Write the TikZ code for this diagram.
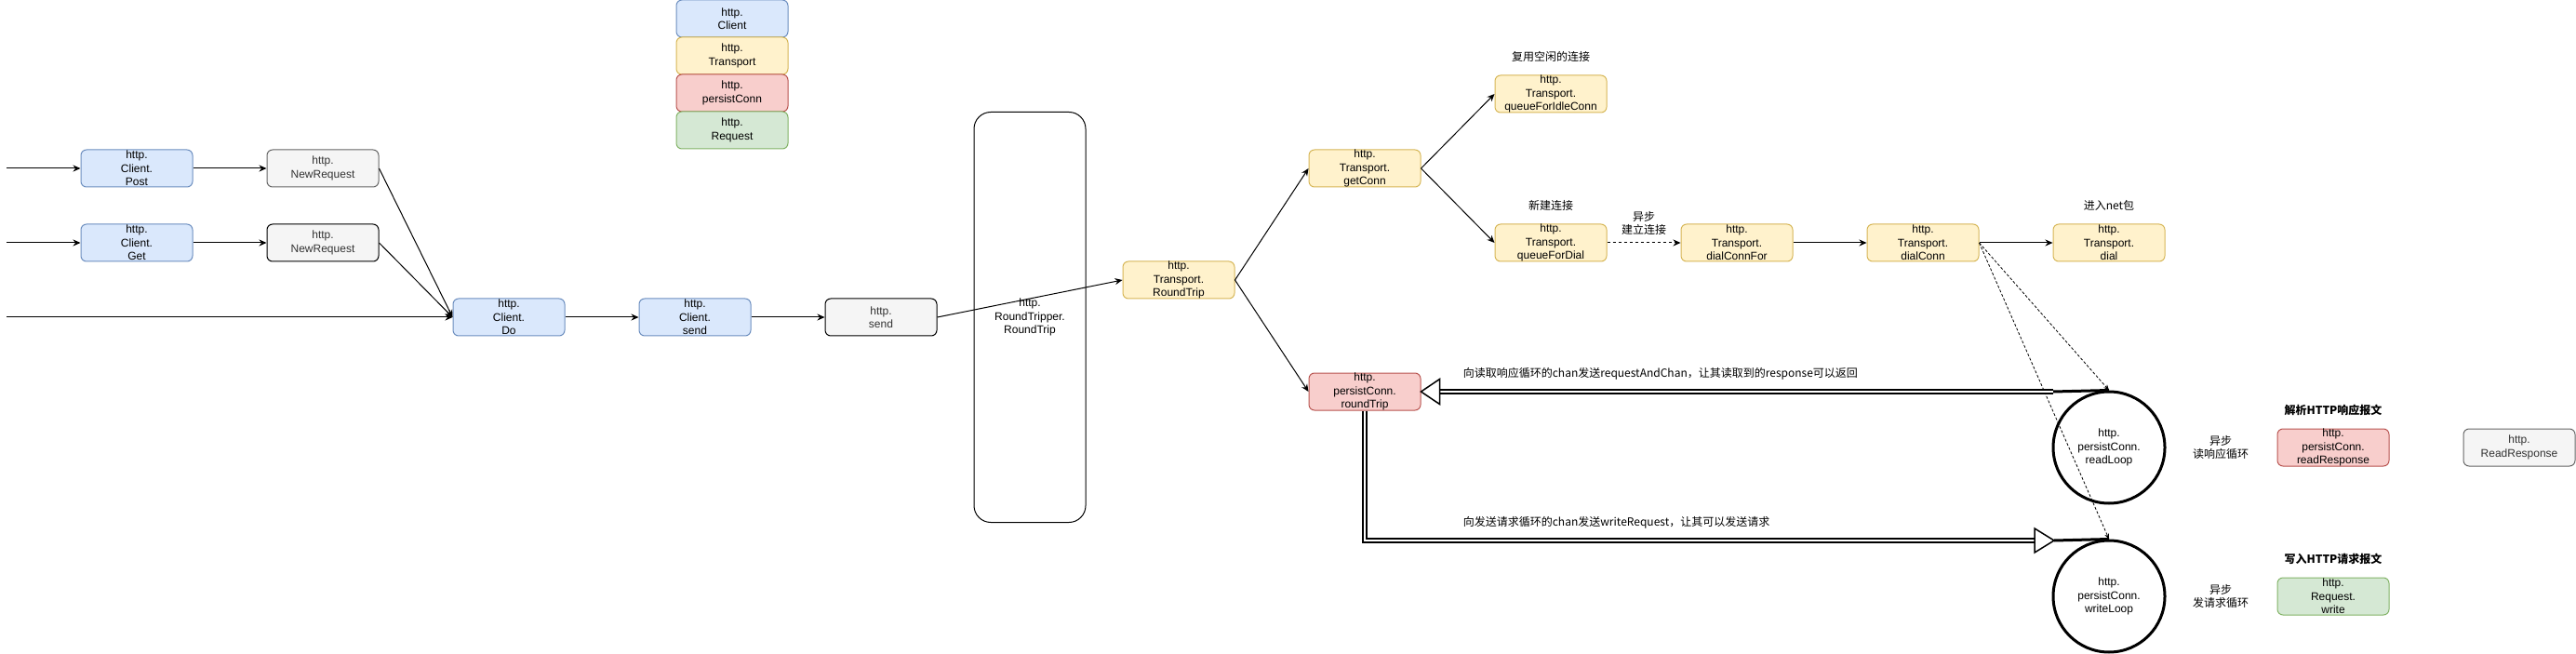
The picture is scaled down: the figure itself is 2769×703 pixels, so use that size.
\documentclass[tikz,border=0pt]{standalone}
\usepackage{fontspec}
\setmainfont{Liberation Sans}
\newfontfamily\cjk{Noto Sans CJK SC}
\usepackage{tikz}
\usetikzlibrary{arrows.meta, positioning}

\definecolor{clientFill}{HTML}{DAE8FC}
\definecolor{clientLine}{HTML}{6C8EBF}
\definecolor{transFill}{HTML}{FFF2CC}
\definecolor{transLine}{HTML}{D6B656}
\definecolor{connFill}{HTML}{F8CECC}
\definecolor{connLine}{HTML}{B85450}
\definecolor{reqFill}{HTML}{D5E8D4}
\definecolor{reqLine}{HTML}{82B366}
\definecolor{plainFill}{HTML}{F5F5F5}
\definecolor{plainLine}{HTML}{666666}
\definecolor{plainText}{HTML}{333333}

\begin{document}
\begin{tikzpicture}[x=1pt, y=-1pt, line width=1pt, node distance=200pt, >={Stealth[length=8pt, width=7pt]},
    box/.style={draw, rounded corners=6pt, minimum width=120pt, minimum height=40pt, inner sep=0pt, align=center, font=\fontsize{12}{14.4}\selectfont},
    clientbox/.style={box, fill=clientFill, draw=clientLine},
    transbox/.style={box, fill=transFill, draw=transLine},
    connbox/.style={box, fill=connFill, draw=connLine},
    reqbox/.style={box, fill=reqFill, draw=reqLine},
    plainbox/.style={box, fill=plainFill, draw=plainLine, text=plainText},
    loopnode/.style={draw, circle, line width=3pt, minimum size=120pt, inner sep=0pt, align=center, font=\fontsize{12}{14.4}\selectfont},
    note/.style={align=center, font=\cjk\fontsize{12}{14.4}\selectfont},
    boldnote/.style={align=center, font=\cjk\bfseries\fontsize{12}{14.4}\selectfont},
    dashlink/.style={densely dashed, line width=0.8pt, -{Stealth[length=6pt, width=5pt]}},
    flexbody/.style={line width=1.5pt, double, double distance=2.5pt},
    flexhead/.style={draw, line width=1.5pt, fill=white, line join=miter}]

    \useasboundingbox (0,0) rectangle (2769,703);

    % Legend
    \node (legClient) [clientbox] at (787,20) {http.\\Client};
    \node (legTransport) [transbox, below of=legClient, node distance=40pt] {http.\\Transport};
    \node (legConn) [connbox, below of=legTransport, node distance=40pt] {http.\\persistConn};
    \node (legRequest) [reqbox, below of=legConn, node distance=40pt] {http.\\Request};

    % Client side
    \coordinate (inPost) at (7,181);
    \coordinate (inGet) at (7,261);
    \coordinate (inDo) at (7,341);
    \node (post) [clientbox] at (147,181) {http.\\Client.\\Post};
    \node (newReqA) [plainbox, right of=post] {http.\\NewRequest};
    \node (get) [clientbox] at (147,261) {http.\\Client.\\Get};
    \node (newReqB) [plainbox, draw=black, right of=get] {http.\\NewRequest};
    \node (clientDo) [clientbox] at (547,341) {http.\\Client.\\Do};
    \node (clientSend) [clientbox, right of=clientDo] {http.\\Client.\\send};
    \node (httpSend) [plainbox, draw=black, right of=clientSend] {http.\\send};

    % RoundTripper interface
    \node (tripper) [draw, rounded corners=18pt, minimum width=120pt, minimum height=441pt, align=center, font=\fontsize{12}{14.4}\selectfont] at (1107,341) {http.\\RoundTripper.\\RoundTrip};

    % Transport side
    \node (tRoundTrip) [transbox] at (1267,301) {http.\\Transport.\\RoundTrip};
    \node (getConn) [transbox] at (1467,181) {http.\\Transport.\\getConn};
    \node (pcRoundTrip) [connbox] at (1467,421) {http.\\persistConn.\\roundTrip};
    \node (queueIdle) [transbox] at (1667,101) {http.\\Transport.\\queueForIdleConn};
    \node (queueDial) [transbox] at (1667,261) {http.\\Transport.\\queueForDial};
    \node (dialConnFor) [transbox, right of=queueDial] {http.\\Transport.\\dialConnFor};
    \node (dialConn) [transbox, right of=dialConnFor] {http.\\Transport.\\dialConn};
    \node (dial) [transbox, right of=dialConn] {http.\\Transport.\\dial};

    % persistConn loops
    \node (readLoop) [loopnode] at (2267,481) {http.\\persistConn.\\readLoop};
    \node (writeLoop) [loopnode] at (2267,641) {http.\\persistConn.\\writeLoop};
    \node (readResp) [connbox] at (2508,481) {http.\\persistConn.\\readResponse};
    \node (readResponse) [plainbox, right of=readResp] {http.\\ReadResponse};
    \node (reqWrite) [reqbox] at (2508,641) {http.\\Request.\\write};

    % Notes
    \node (idleNote) [note, above of=queueIdle, node distance=40pt] {复用空闲的连接};
    \node (dialNote) [note, above of=queueDial, node distance=40pt] {新建连接};
    \node (netNote) [note, above of=dial, node distance=40pt] {进入net包};
    \node (asyncDial) [note] at (1767,240) {异步\\建立连接};
    \node (asyncRead) [note, right of=readLoop, node distance=120pt] {异步\\读响应循环};
    \node (asyncWrite) [note, right of=writeLoop, node distance=120pt] {异步\\发请求循环};
    \node (parseNote) [boldnote, above of=readResp, node distance=40pt] {解析HTTP响应报文};
    \node (writeNote) [boldnote, above of=reqWrite, node distance=40pt] {写入HTTP请求报文};
    \node (toReadText) [note, anchor=west] at (1569,402) {向读取响应循环的chan发送requestAndChan，让其读取到的response可以返回};
    \node (toWriteText) [note, anchor=west] at (1569,562) {向发送请求循环的chan发送writeRequest，让其可以发送请求};

    % Arrows
    \draw[->] (inPost) -- (post);
    \draw[->] (inGet) -- (get);
    \draw[->] (inDo) -- (clientDo);
    \draw[->] (post) -- (newReqA);
    \draw[->] (get) -- (newReqB);
    \draw[->] (newReqA.east) -- (clientDo.west);
    \draw[->] (newReqB.east) -- (clientDo.west);
    \draw[->] (clientDo) -- (clientSend);
    \draw[->] (clientSend) -- (httpSend);
    \draw[->] (httpSend.east) -- (tRoundTrip.west);
    \draw[->] (tRoundTrip.east) -- (getConn.west);
    \draw[->] (tRoundTrip.east) -- (pcRoundTrip.west);
    \draw[->] (getConn.east) -- (queueIdle.west);
    \draw[->] (getConn.east) -- (queueDial.west);
    \draw[->, dashed] (queueDial) -- (dialConnFor);
    \draw[->] (dialConnFor) -- (dialConn);
    \draw[->] (dialConn) -- (dial);
    \draw[dashlink] (dialConn.east) -- (readLoop.north);
    \draw[dashlink] (dialConn.east) -- (writeLoop.north);

    % Hollow arrows between roundTrip and the loops
    \coordinate (readTail) at (2207,421);
    \draw[line width=3pt] (readLoop.north) -- (readTail);
    \draw[flexbody] (readTail) -- ([xshift=20pt]pcRoundTrip.east);
    \draw[flexhead] (pcRoundTrip.east) -- ++(20,-13.5) -- ++(0,27) -- cycle;

    \coordinate (writeHead) at (2187,581);
    \draw[flexbody] (pcRoundTrip.south) |- (writeHead);
    \draw[flexhead] (writeHead) ++(0,-13) -- ++(21,13) -- ++(-21,13) -- cycle;
    \draw[line width=3pt] ([xshift=21pt]writeHead) -- (writeLoop.north);

\end{tikzpicture}
\end{document}
